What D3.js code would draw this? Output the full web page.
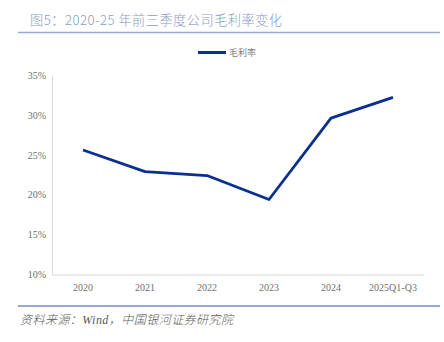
<!DOCTYPE html>
<html><head><meta charset="utf-8">
<script src="https://cdn.jsdelivr.net/npm/d3@7"></script>
<style>body{margin:0;background:#fff}svg{display:block}</style>
</head><body>
<script>
const categories = ["2020","2021","2022","2023","2024","2025Q1-Q3"];
const grossMargin = [25.6, 22.9, 22.4, 19.4, 29.6, 32.2];
const yTicks = [10,15,20,25,30,35];
const title = "图5：2020-25 年前三季度公司毛利率变化";
const seriesName = "毛利率";
const source = "资料来源：Wind，中国银河证券研究院";

const W=444,H=342;
const svg=d3.select("body").append("svg").attr("width",W).attr("height",H);
const cjk="'Noto Sans CJK SC','Noto Sans',sans-serif";
const serif="'Liberation Serif','DejaVu Serif','Noto Sans CJK SC',serif";

svg.append("text").attr("x",30).attr("y",25).attr("font-family",cjk).attr("font-size",13.2)
  .attr("font-weight",300).attr("fill","#8a9bc6").attr("textLength",252).attr("lengthAdjust","spacing").text(title);
svg.append("line").attr("x1",18).attr("x2",440).attr("y1",32.5).attr("y2",32.5)
  .attr("stroke","#98a9d0").attr("stroke-width",1.5);

const x=d3.scaleBand().domain(categories).range([52,424]);
const y=d3.scaleLinear().domain([10,35]).range([274.5,75]);

// legend
svg.append("line").attr("x1",198).attr("x2",226).attr("y1",52.5).attr("y2",52.5)
  .attr("stroke","#0b2f8f").attr("stroke-width",3);
svg.append("text").attr("x",229).attr("y",56).attr("font-family",cjk).attr("font-size",9)
  .attr("fill","#808080").text(seriesName);

// axes
const gy=svg.append("g").attr("transform","translate(52,0)")
  .call(d3.axisLeft(y).tickValues(yTicks).tickSize(0).tickPadding(6).tickFormat(d=>d+"%"));
gy.select(".domain").attr("stroke","#d9d9d9");
gy.selectAll("text").attr("font-family",serif).attr("font-size",10).attr("fill","#707070");

const gx=svg.append("g").attr("transform","translate(0,274.5)")
  .call(d3.axisBottom(x).tickSize(0).tickPadding(9));
gx.select(".domain").attr("stroke","#d9d9d9");
gx.selectAll("text").attr("font-family",serif).attr("font-size",10).attr("fill","#707070");

// line
const line=d3.line().x((d,i)=>x(categories[i])+x.bandwidth()/2).y(d=>y(d));
svg.append("path").datum(grossMargin).attr("d",line).attr("fill","none")
  .attr("stroke","#0b2f8f").attr("stroke-width",2.8).attr("stroke-linejoin","round");

// footer
svg.append("line").attr("x1",18).attr("x2",440).attr("y1",306).attr("y2",306)
  .attr("stroke","#98a9d0").attr("stroke-width",2);
svg.append("text").attr("x",20).attr("y",324).attr("font-family",serif).attr("font-style","italic")
  .attr("font-weight",300).attr("font-size",12).attr("fill","#595959").attr("textLength",213).attr("lengthAdjust","spacing").text(source);
</script>
</body></html>
